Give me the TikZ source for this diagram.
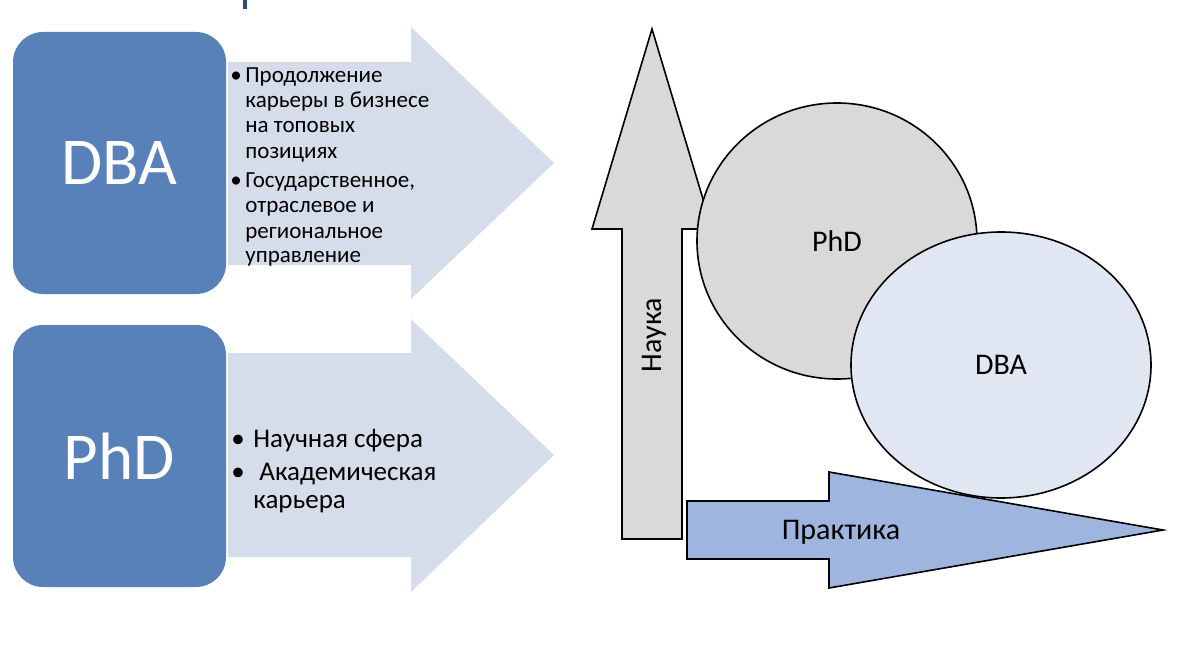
\documentclass[tikz,border=0pt]{standalone}
\usepackage{fontspec}
\setmainfont{Carlito}
\usetikzlibrary{shapes.geometric}

\definecolor{cardblue}{HTML}{5881BA}
\definecolor{paleblue}{HTML}{D6DDEA}
\definecolor{lightgrey}{HTML}{D9D9D9}
\definecolor{ovalblue}{HTML}{E0E7F3}
\definecolor{practblue}{HTML}{9EB5DF}
\definecolor{titleblue}{HTML}{2C4A7A}

\begin{document}
\begin{tikzpicture}[x=0.5pt, y=-0.5pt,
  card/.style={fill=cardblue, rounded corners=15pt, text=white, inner sep=0,
    minimum width=106.5pt, minimum height=131pt, font=\fontsize{33.5}{40}\selectfont},
  item/.style={inner sep=0, anchor=base west},
  oval/.style={ellipse, draw=black, line width=0.8pt, inner sep=0, font=\fontsize{15}{18}\selectfont},
  outline/.style={draw=black, line width=0.8pt, line join=miter}]
  \useasboundingbox (0,0) rectangle (1200,658);

  % piece of the cut-off title
  \fill[titleblue] (243,0) rectangle (247,9);

  % left: two cards with arrows
  \fill[paleblue] (228,62) -- (411,62) -- (411,27) -- (554,163) -- (411,299) -- (411,265) -- (228,265) -- cycle;
  \fill[paleblue] (228,353) -- (411,353) -- (411,319) -- (554,455) -- (411,592) -- (411,557) -- (228,557) -- cycle;

  \node[card] (dbaCard) at (119.5,163) {DBA};
  \node[card] (phdCard) at (119.5,456) {PhD};

  \foreach \txt/\yy [count=\i] in {Продолжение/83, карьеры в бизнесе/108, на топовых/133, позициях/159,
      {Государственное,}/188, отраслевое и/213, региональное/238, управление/263}
    \node[item, font=\fontsize{11.5}{13}\selectfont] (dbaLine\i) at (245,\yy) {\txt};
  \node[item, font=\fontsize{11.5}{13}\selectfont] (dbaDotA) at (230,83) {\textbullet};
  \node[item, font=\fontsize{11.5}{13}\selectfont] (dbaDotB) at (230,188) {\textbullet};

  \node[item, font=\fontsize{13.5}{16}\selectfont] (phdLineA) at (253,447) {Научная сфера};
  \node[item, font=\fontsize{13.5}{16}\selectfont] (phdLineB) at (259,480) {Академическая};
  \node[item, font=\fontsize{13.5}{16}\selectfont] (phdLineC) at (253,508) {карьера};
  \node[item, font=\fontsize{13.5}{16}\selectfont] (phdDotA) at (231,447) {\textbullet};
  \node[item, font=\fontsize{13.5}{16}\selectfont] (phdDotB) at (231,480) {\textbullet};

  % right: science up, practice to the right
  \draw[outline, fill=lightgrey] (622,539) -- (622,229) -- (592,229) -- (652,29) -- (712,229) -- (682,229) -- (682,539) -- cycle;
  \draw[outline, fill=practblue] (687,501) -- (829,501) -- (829,472) -- (1163,530) -- (829,588) -- (829,559) -- (687,559) -- cycle;

  \node[oval, fill=lightgrey, minimum width=140pt, minimum height=138pt] (phdOval) at (837,241) {PhD};
  \node[oval, fill=ovalblue, minimum width=150pt, minimum height=133pt] (dbaOval) at (1001,365) {DBA};

  \node[rotate=90, inner sep=0, font=\fontsize{15}{18}\selectfont] (scienceLbl) at (654,335) {Наука};
  \node[inner sep=0, font=\fontsize{15}{18}\selectfont] (practiceLbl) at (841,532) {Практика};
\end{tikzpicture}
\end{document}
